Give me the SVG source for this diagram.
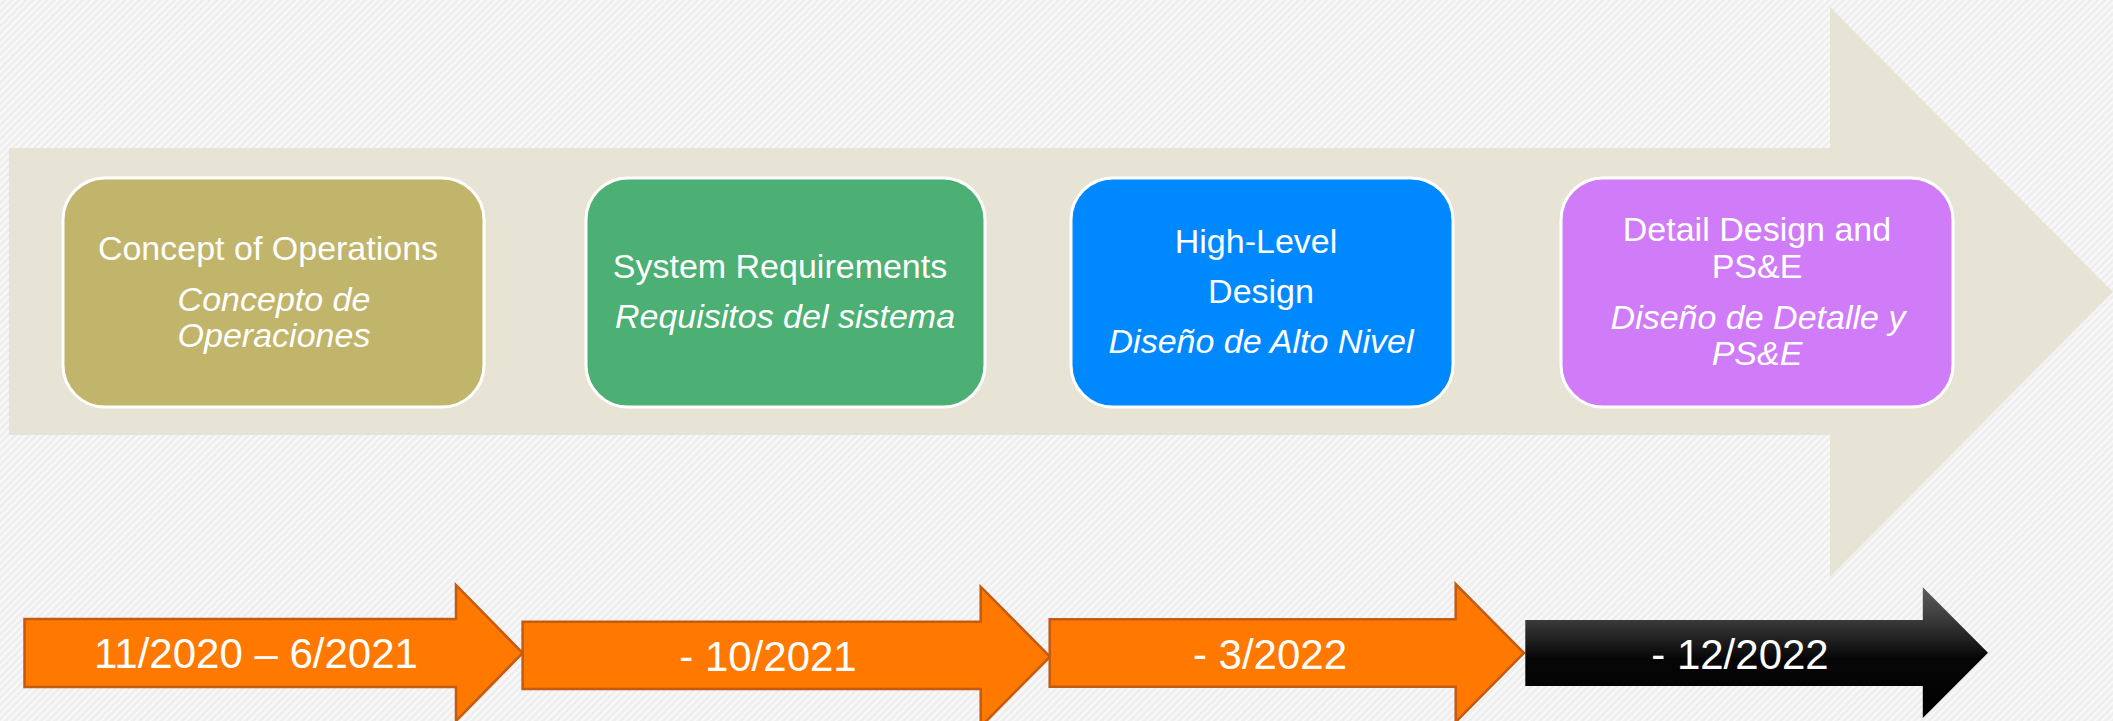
<svg xmlns="http://www.w3.org/2000/svg" width="2113" height="721" viewBox="0 0 2113 721">
  <defs>
    <pattern id="hatch" width="5" height="5" patternUnits="userSpaceOnUse" patternTransform="rotate(45)">
      <rect width="5" height="5" fill="#eeeeee"/>
      <rect width="2.2" height="5" fill="#f9f9f9"/>
    </pattern>
    <linearGradient id="blackGrad" gradientUnits="userSpaceOnUse" x1="0" y1="587" x2="0" y2="718">
      <stop offset="0" stop-color="#5e5e5e"/>
      <stop offset="0.25" stop-color="#3a3a3a"/>
      <stop offset="0.55" stop-color="#060606"/>
      <stop offset="1" stop-color="#000000"/>
    </linearGradient>
  </defs>
  <style>
    .box { stroke: #ffffff; stroke-width: 3; }
    .t { font-family: "Liberation Sans", Arial, sans-serif; font-size: 34px; fill: #ffffff; text-anchor: middle; }
    .i { font-style: italic; }
    .orange { fill: #ff7900; stroke: #c55a11; stroke-width: 2.5; stroke-linejoin: miter; }
    .dt { font-family: "Liberation Sans", Arial, sans-serif; font-size: 42px; fill: #ffffff; text-anchor: middle; }
  </style>

  <rect id="background" x="0" y="0" width="2113" height="721" fill="url(#hatch)"/>

  <g id="timeline-arrow">
    <polygon points="9,148 1830,148 1830,7 2113,292 1830,577 1830,435 9,435" fill="#e8e4d5"/>
  </g>

  <g id="node-conops">
    <rect class="box" x="63" y="178" width="421" height="229" rx="42" ry="42" fill="#c1b46b"/>
    <text class="t" x="268" y="260">Concept of Operations</text>
    <text class="t i" x="274" y="311">Concepto de</text>
    <text class="t i" x="274" y="347">Operaciones</text>
  </g>

  <g id="node-sysreq">
    <rect class="box" x="586" y="178" width="399" height="229" rx="42" ry="42" fill="#4caf74"/>
    <text class="t" x="780" y="278">System Requirements</text>
    <text class="t i" x="785" y="328">Requisitos del sistema</text>
  </g>

  <g id="node-hld">
    <rect class="box" x="1071" y="178" width="382" height="229" rx="42" ry="42" fill="#0089ff"/>
    <text class="t" x="1256" y="253">High-Level</text>
    <text class="t" x="1261" y="303">Design</text>
    <text class="t i" x="1261" y="353">Diseño de Alto Nivel</text>
  </g>

  <g id="node-detail">
    <rect class="box" x="1561" y="178" width="392" height="229" rx="42" ry="42" fill="#d07cf8"/>
    <text class="t" x="1757" y="241">Detail Design and</text>
    <text class="t" x="1757" y="278">PS&amp;E</text>
    <text class="t i" x="1758" y="329">Diseño de Detalle y</text>
    <text class="t i" x="1757" y="365">PS&amp;E</text>
  </g>

  <g id="phase-1">
    <polygon class="orange" points="24.5,619 456,619 456,585 522.6,653 456,721 456,687 24.5,687"/>
    <text class="dt" x="256" y="668">11/2020 – 6/2021</text>
  </g>

  <g id="phase-2">
    <polygon class="orange" points="522.6,621.7 980.7,621.7 980.7,586.7 1050,656.7 980.7,726.7 980.7,689 522.6,689"/>
    <text class="dt" x="768" y="671">- 10/2021</text>
  </g>

  <g id="phase-3">
    <polygon class="orange" points="1049.7,619.3 1455.7,619.3 1455.7,584 1524,653 1455.7,722 1455.7,686.7 1049.7,686.7"/>
    <text class="dt" x="1270" y="669">- 3/2022</text>
  </g>

  <g id="phase-4">
    <polygon points="1525.3,620 1922.8,620 1922.8,587.3 1988,652.7 1922.8,718 1922.8,686 1525.3,686" fill="url(#blackGrad)"/>
    <text class="dt" x="1740" y="669">- 12/2022</text>
  </g>

  <g id="connectors"/>
</svg>
